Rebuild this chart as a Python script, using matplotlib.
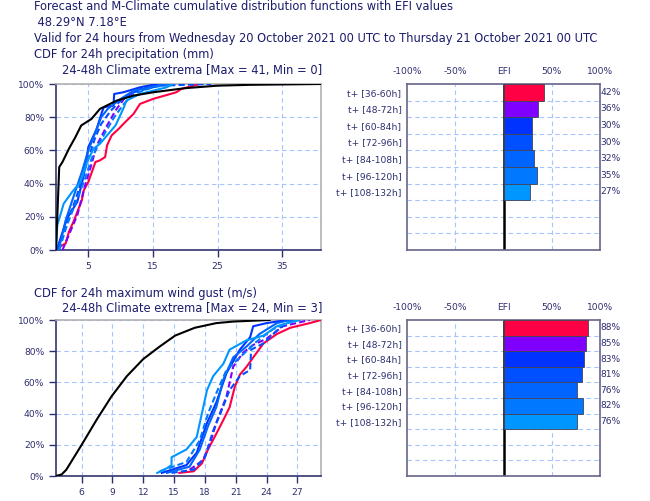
import matplotlib
matplotlib.use('Agg')

import matplotlib.pyplot as plt
import matplotlib.transforms as mtransforms

# texte
header = ["Forecast and M-Climate cumulative distribution functions with EFI values",
          " 48.29°N 7.18°E",
          "Valid for 24 hours from Wednesday 20 October 2021 00 UTC to Thursday 21 October 2021 00 UTC"]
rain_title = "CDF for 24h precipitation (mm)"
rain_sub = "24-48h Climate extrema [Max = 41, Min = 0]"
wind_title = "CDF for 24h maximum wind gust (m/s)"
wind_sub = "24-48h Climate extrema [Max = 24, Min = 3]"

steps = ["t+ [36-60h]", "t+ [48-72h]", "t+ [60-84h]", "t+ [72-96h]",
         "t+ [84-108h]", "t+ [96-120h]", "t+ [108-132h]"]
step_colors = ['#ff0044', '#8000ff', '#0033ff', '#0050ff', '#0064ff', '#0078ff', '#0096ff']
step_dashed = [False, True, False, True, False, True, False]

efi_rain = [42, 36, 30, 30, 32, 35, 27]
efi_wind = [88, 85, 83, 81, 76, 82, 76]

# M-Climate Niederschlag
clim_rain_x = [0, 0.2, 0.5, 1, 2, 3, 3.9, 5.5, 6.8, 9.4, 12, 15, 20, 25, 30, 41]
clim_rain_p = [0, 20, 50, 53, 61, 68, 75, 79, 85, 90, 93, 95, 97.5, 99, 99.5, 100]

# Vorhersagen Niederschlag
rain_x = [
    [0.6, 1.5, 2, 2.7, 3.5, 4, 4.3, 5, 6.1, 6.8, 7.6, 7.9, 8.6, 9.7, 10.7, 12, 13, 15, 18.6, 19.4, 22.2],
    [1, 2.2, 3.3, 4.5, 5.3, 6.3, 7.9, 9.2, 10.7, 13, 16.6],
    [0.2, 1.7, 3.3, 4.3, 5, 6.3, 7.1, 7.4, 8.9, 9, 10.4, 13, 15.6],
    [0.3, 1.5, 3, 4.2, 5, 6, 7, 8.5, 10, 12, 16, 24],
    [0.4, 1.5, 2.7, 4, 5, 6, 7, 8, 10, 12, 17],
    [0.5, 1.7, 3, 4.5, 5.5, 6.5, 7.5, 9, 10.5, 12, 15, 18],
    [0, 0.2, 1.2, 2.5, 3.8, 4.8, 5.8, 6.8, 7.9, 9.2, 10.4, 10.9, 13, 17.1, 18.1],
]
rain_p = [
    [2, 4, 11, 17, 25, 30, 36, 41, 53, 54, 56, 63, 69, 73, 77, 82, 88, 91, 95, 97, 100],
    [0, 11, 21, 39, 49, 63, 75, 84, 92, 97, 100],
    [1, 19, 29, 45, 62, 73, 83, 86, 87, 94, 95, 98, 100],
    [0, 15, 30, 45, 55, 67, 76, 84, 90, 95, 99, 100],
    [0, 18, 32, 47, 60, 70, 80, 85, 91, 96, 100],
    [0, 15, 28, 43, 55, 63, 70, 80, 88, 94, 98, 100],
    [0, 15, 28, 35, 41, 53, 61, 64, 69, 75, 85, 90, 94, 98, 100],
]

# M-Climate Wind
clim_wind_x = [3.5, 4.05, 4.5, 6, 7.45, 8.9, 10.4, 12, 13.6, 15.1, 17, 19.1, 20.75, 24.3]
clim_wind_p = [0, 1, 4, 20, 36, 51, 64, 75, 83, 90, 95, 98, 99, 100]

# Vorhersagen Wind
wind_x = [
    [15.5, 16.9, 17.7, 18.3, 19.1, 19.8, 20.4, 20.9, 21.4, 22.05, 22.7, 23.7, 25, 26.3, 28.2, 29.3],
    [16.5, 17.8, 18.5, 19.1, 20.1, 20.75, 21.7, 22.7, 24, 25.6, 28.2],
    [13.8, 16.2, 17.2, 18.2, 19.1, 20.1, 21.4, 22.4, 22.7, 24, 26],
    [14.75, 16.9, 18, 18.8, 19.5, 20.4, 21.4, 22.4, 22.5, 23.7, 25.3, 26.3, 27],
    [14.3, 16.5, 17.5, 18.3, 19.1, 19.8, 20.75, 22.05, 23.3, 25, 26.3],
    [13.6, 16.2, 17.5, 18.3, 19.1, 20.1, 21.4, 23, 24.6, 26.3, 27.2],
    [13.36, 14.3, 14.75, 14.75, 16.2, 17.2, 17.7, 18.2, 18.8, 19.8, 20.4, 22.05, 23.7, 25, 26.6, 27.2],
]
wind_p = [
    [2, 3, 8, 17, 27, 36, 44, 57, 65, 70, 76, 85, 91, 95, 98, 100],
    [4, 10, 21, 34, 51, 70, 79, 84, 88, 96, 100],
    [2, 7, 15, 34, 47, 66, 81, 89, 96, 98, 100],
    [2, 4, 12, 29, 40, 55, 64, 68, 81, 85, 95, 99, 100],
    [2, 6, 17, 32, 44, 62, 76, 83, 91, 98, 100],
    [3, 9, 23, 40, 53, 68, 76, 86, 94, 99, 100],
    [2, 5, 7, 12, 17, 25, 40, 55, 64, 72, 81, 87, 90, 96, 99, 100],
]

navy = '#1c1c6e'
tick_col = '#2e2e70'
grid_col = '#a8c4ff'
plt.rcParams['font.family'] = ['DejaVu Sans']

fig = plt.figure(figsize=(6.5, 5.01), dpi=100)

# Kopfzeilen (schmale Schrift)
head_y = [5, 21, 36.7]
for txt, yy in zip(header, head_y):
    fig.text(34 / 650, 1 - yy / 501, txt, ha='left', va='center_baseline', fontsize=9.2,
             fontstretch='condensed', color=navy)


def cdf_panel(rect, clim_x, clim_p, xs, ps, xticks, title, sub, title_y, sub_y):
    ax = fig.add_axes(rect)
    for x, p, c, d in zip(xs, ps, step_colors, step_dashed):
        ax.plot(x, p, color=c, lw=1.5, ls=(0, (3, 1.5)) if d else '-', zorder=3)
    ax.plot(clim_x, clim_p, color='black', lw=1.5, zorder=4)
    all_x = clim_x + [v for x in xs for v in x]
    ax.set_xlim(min(all_x), max(all_x))
    ax.set_ylim(0, 100)
    ax.set_xticks(xticks)
    ax.set_yticks(range(0, 101, 20))
    ax.set_yticklabels([f"{v}%" for v in range(0, 101, 20)])
    ax.grid(True, color=grid_col, ls=(0, (4, 3)), lw=0.8)
    ax.set_axisbelow(True)
    ax.tick_params(labelsize=6.6, colors=tick_col, length=5, width=1)
    for s in ['left', 'bottom']:
        ax.spines[s].set_color('#33336e')
        ax.spines[s].set_linewidth(1.2)
    for s in ['top', 'right']:
        ax.spines[s].set_color('#b0b0b0')
        ax.spines[s].set_linewidth(1.2)
    fig.text(34 / 650, 1 - title_y / 501, title, ha='left', va='center_baseline',
             fontsize=8.3, color=navy)
    fig.text(62 / 650, 1 - sub_y / 501, sub, ha='left', va='center_baseline',
             fontsize=8.3, color=navy)
    return ax


def efi_panel(rect, vals):
    ax = fig.add_axes(rect)
    rows = range(len(vals))
    ax.axvline(0, color='black', lw=1.8, zorder=2)
    ax.barh(rows, vals, height=1.0, color=step_colors, edgecolor='#444455',
            lw=0.6, zorder=3)
    ax.set_xlim(-100, 100)
    ax.set_ylim(9.5, -0.5)
    ax.set_yticks(list(rows))
    ax.set_yticklabels(steps)
    ax.set_yticks([i + 0.5 for i in range(9)], minor=True)
    ax.set_xticks([-100, -50, 0, 50, 100])
    ax.set_xticklabels(['-100%', '-50%', 'EFI', '50%', '100%'])
    ax.xaxis.tick_top()
    ax.tick_params(which='both', length=0, labelsize=6.6, colors=tick_col)
    ax.tick_params(axis='x', pad=6)
    ax.tick_params(axis='y', pad=4)
    ax.grid(True, which='minor', axis='y', color=grid_col, ls=(0, (4, 3)), lw=0.8)
    for xv in [-50, 50]:
        ax.axvline(xv, color=grid_col, ls=(0, (4, 3)), lw=0.8, zorder=1)
    for s in ax.spines.values():
        s.set_color('#66668a')
        s.set_linewidth(1.2)
    trans = mtransforms.blended_transform_factory(ax.transAxes, ax.transData)
    for i, v in enumerate(vals):
        ax.text(1.003, i, f"{v}%", transform=trans, ha='left', va='center',
                fontsize=6.6, color=tick_col)
    return ax


cdf_panel([56 / 650, 1 - 250 / 501, 265 / 650, 166 / 501],
          clim_rain_x, clim_rain_p, rain_x, rain_p, [5, 15, 25, 35],
          rain_title, rain_sub, 53.3, 69.3)
efi_panel([407 / 650, 1 - 250 / 501, 193 / 650, 166 / 501], efi_rain)

cdf_panel([56 / 650, 1 - 476 / 501, 265 / 650, 156 / 501],
          clim_wind_x, clim_wind_p, wind_x, wind_p, [6, 9, 12, 15, 18, 21, 24, 27],
          wind_title, wind_sub, 292.5, 307)
efi_panel([407 / 650, 1 - 476 / 501, 193 / 650, 156 / 501], efi_wind)

fig.savefig('out.png', dpi=100)
